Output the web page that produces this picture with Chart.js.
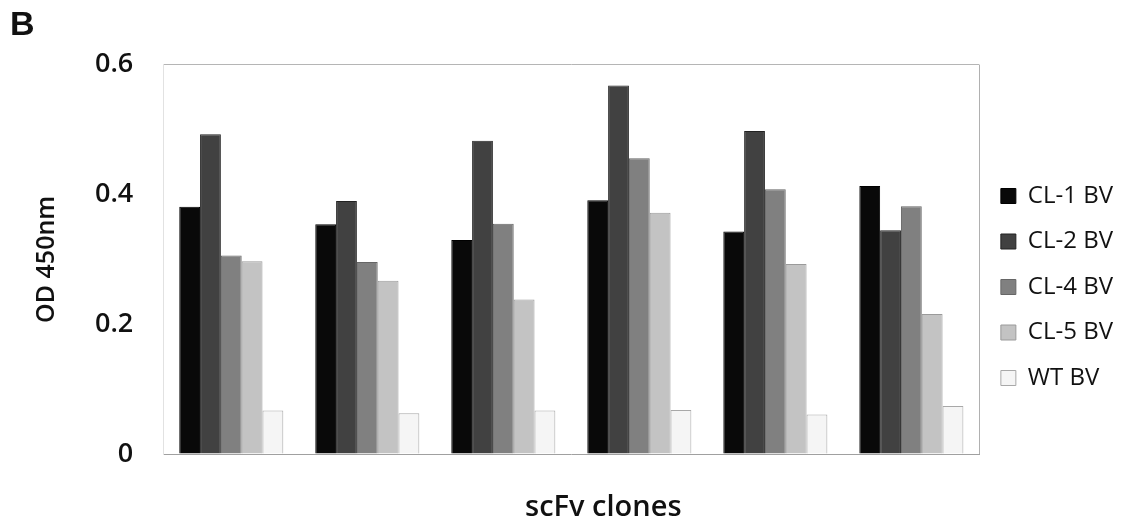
<!DOCTYPE html>
<html>
<head>
<meta charset="utf-8">
<script src="https://cdn.jsdelivr.net/npm/chart.js@4.4.1/dist/chart.umd.min.js"></script>
<style>
  html, body { margin: 0; padding: 0; background: #ffffff; }
  #wrap { width: 1126px; height: 518px; position: relative; }
</style>
</head>
<body>
<div id="wrap"><canvas id="c"></canvas></div>
<script>
// ---- data ----
const clones = ['1', '2', '3', '4', '5', '6'];
const seriesNames = ['CL-1 BV', 'CL-2 BV', 'CL-4 BV', 'CL-5 BV', 'WT BV'];
const cl1 = [0.381, 0.354, 0.330, 0.391, 0.343, 0.413];
const cl2 = [0.493, 0.390, 0.483, 0.568, 0.498, 0.345];
const cl4 = [0.306, 0.296, 0.355, 0.456, 0.408, 0.382];
const cl5 = [0.297, 0.267, 0.238, 0.372, 0.293, 0.216];
const wt  = [0.067, 0.063, 0.067, 0.068, 0.061, 0.074];
const yTicks = [0, 0.2, 0.4, 0.6];
const panelLabel = 'B';
const yTitle = 'OD 450nm';
const xTitle = 'scFv clones';

// ---- styles ----
const fills   = ['#090909', '#414141', '#808080', '#c3c3c3', '#f5f5f5'];
const borders = ['#000000', '#222222', '#666666', '#9a9a9a', '#a8a8a8'];
const seriesValues = [cl1, cl2, cl4, cl5, wt];

const datasets = seriesNames.map((name, i) => ({
  label: name,
  data: seriesValues[i],
  backgroundColor: fills[i],
  borderColor: borders[i],
  borderWidth: 1,
  barPercentage: 1.0,
  categoryPercentage: 0.765
}));

const xTitlePlugin = {
  id: 'xTitlePlugin',
  afterDraw(chart) {
    const { ctx, chartArea } = chart;
    ctx.save();
    ctx.font = '600 29px "Open Sans"';
    ctx.fillStyle = '#111111';
    ctx.textAlign = 'center';
    ctx.textBaseline = 'alphabetic';
    ctx.fillText(xTitle, (chartArea.left + chartArea.right) / 2 + 32, chartArea.bottom + 62);
    ctx.restore();
  }
};

function build() {
  Chart.defaults.font.family = '"Open Sans", "Liberation Sans", sans-serif';
  Chart.defaults.color = '#111111';
  new Chart(document.getElementById('c'), {
    type: 'bar',
    data: { labels: clones, datasets },
    plugins: [xTitlePlugin],
    options: {
      responsive: true,
      maintainAspectRatio: false,
      animation: false,
      layout: { padding: { left: 10, top: 0, right: 3, bottom: 64 } },
      plugins: {
        tooltip: { enabled: false },
        title: {
          display: true,
          text: panelLabel,
          align: 'start',
          color: '#111111',
          font: { family: '"Liberation Sans", Arial, sans-serif', size: 34, weight: 'bold', lineHeight: 1.2 },
          padding: { top: 5, bottom: 19 }
        },
        legend: {
          position: 'right',
          align: 'center',
          title: { display: true, text: ' ', font: { size: 10, lineHeight: 1 }, padding: { top: 110, bottom: 0 } },
          labels: {
            boxWidth: 15,
            boxHeight: 15,
            padding: 21.5,
            color: '#111111',
            font: { size: 24, weight: 'normal' }
          }
        }
      },
      scales: {
        x: {
          grid: {
            display: true,
            drawTicks: false,
            offset: true,
            color: (c) => c.type === 'scale' ? '#b0b0b0' : 'rgba(0,0,0,0)',
            lineWidth: 1
          },
          border: { display: true, color: '#a0a0a0', width: 1 },
          ticks: { display: false }
        },
        y: {
          min: 0,
          max: 0.6,
          afterBuildTicks: (axis) => { axis.ticks = yTicks.map(v => ({ value: v })); },
          grid: {
            drawTicks: false,
            color: (c) => (c.tick && c.tick.value === 0.6) ? '#b5b5b5' : 'rgba(0,0,0,0)',
            lineWidth: 1
          },
          border: { display: true, color: '#e2e2e2', width: 1 },
          ticks: {
            padding: 30,
            color: '#111111',
            font: { size: 27, weight: '600' },
            callback: (v) => String(v)
          },
          title: {
            display: true,
            text: yTitle,
            color: '#111111',
            font: { size: 25, weight: '600', lineHeight: 1.2 },
            padding: { top: 22, bottom: 3 }
          }
        }
      }
    }
  });
}

const fontLoads = [
  document.fonts.load('600 27px "Open Sans"'),
  document.fonts.load('400 24px "Open Sans"'),
  document.fonts.load('bold 34px "Liberation Sans"')
];
Promise.all(fontLoads).then(build, build);
</script>
</body>
</html>
